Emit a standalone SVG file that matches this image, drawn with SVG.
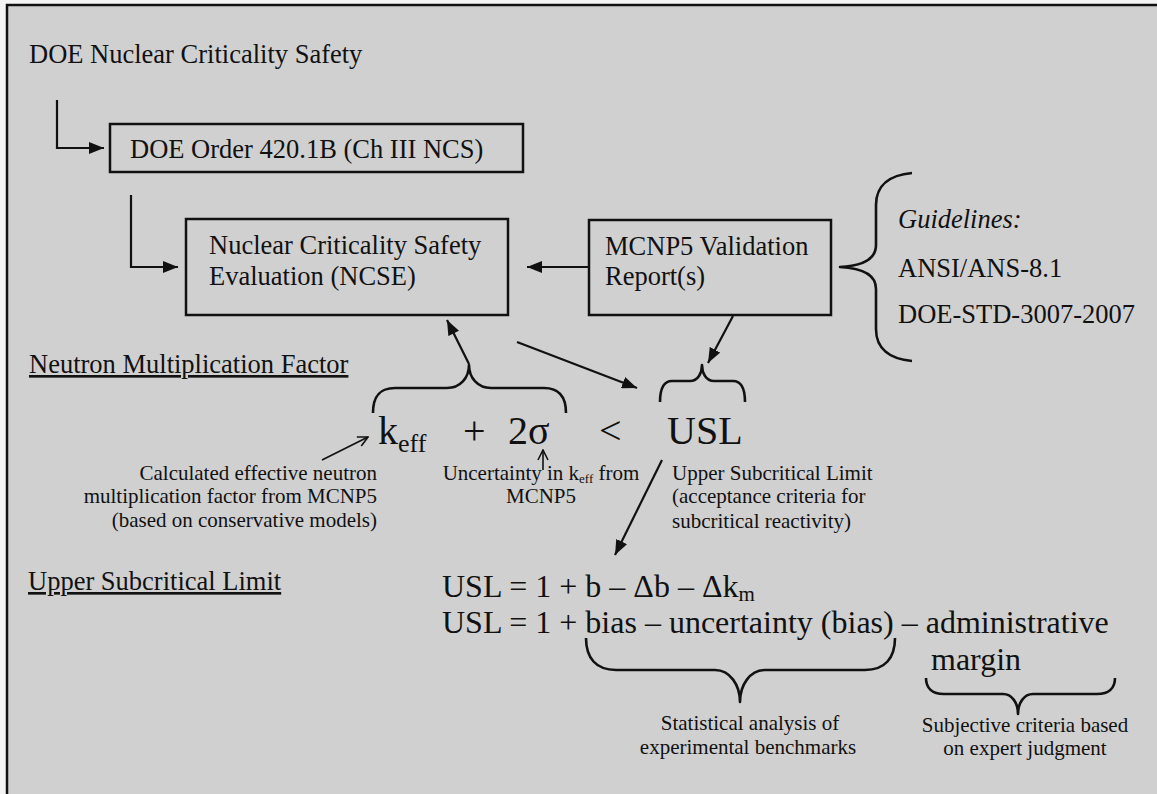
<svg xmlns="http://www.w3.org/2000/svg" width="1157" height="794" viewBox="0 0 1157 794">
<style>
text{font-family:"Liberation Serif","Times New Roman",serif;fill:#111}
.t26{font-size:26.5px}
.t21{font-size:21px}
.t32{font-size:32px}
.t40{font-size:40px}
.box{fill:none;stroke:#111;stroke-width:2.5}
.ln{fill:none;stroke:#111;stroke-width:2.2}
.thin{fill:none;stroke:#111;stroke-width:1.6}
.brace{fill:none;stroke:#111;stroke-width:2.6;stroke-linejoin:round}
</style>
<defs>
<marker id="ah" markerWidth="15" markerHeight="12" refX="15" refY="6" orient="auto" markerUnits="userSpaceOnUse"><path d="M0,0 L15,6 L0,12 z" fill="#111"/></marker>
<marker id="oh" markerWidth="12" markerHeight="12" refX="11" refY="6" orient="auto" markerUnits="userSpaceOnUse"><path d="M1,1 L11,6 L1,11" fill="none" stroke="#111" stroke-width="1.6"/></marker>
</defs>
<rect x="0" y="0" width="1157" height="794" fill="#f4f4f4"/>
<rect x="7" y="5" width="1150" height="789" fill="#d0d0d0"/>
<path d="M7,794 L7,5 L1157,5" fill="none" stroke="#111" stroke-width="2.5"/>

<g id="title"><text class="t26" x="29" y="63">DOE Nuclear Criticality Safety</text></g>

<g id="node-order">
<rect class="box" x="110" y="124" width="413" height="48"/>
<text class="t26" x="130" y="158">DOE Order 420.1B (Ch III NCS)</text>
</g>

<g id="node-ncse">
<rect class="box" x="186" y="219" width="322" height="96"/>
<text class="t26" x="209" y="254">Nuclear Criticality Safety</text>
<text class="t26" x="209" y="285">Evaluation (NCSE)</text>
</g>

<g id="node-mcnp">
<rect class="box" x="589" y="220" width="242" height="95"/>
<text class="t26" x="605" y="255">MCNP5 Validation</text>
<text class="t26" x="605" y="285">Report(s)</text>
</g>

<g id="node-guidelines">
<path class="brace" d="M912,173 C890,175 876,185 876,205 L876,245 C876,260 860,266 840,267 C860,268 876,274 876,289 L876,329 C876,349 890,359 912,361"/>
<text class="t26" x="898" y="228" font-style="italic">Guidelines:</text>
<text class="t26" x="898" y="277">ANSI/ANS-8.1</text>
<text class="t26" x="898" y="323">DOE-STD-3007-2007</text>
</g>

<g id="label-nmf"><text class="t26" x="29" y="373" text-decoration="underline">Neutron Multiplication Factor</text></g>
<g id="label-usl"><text class="t26" x="28" y="590" text-decoration="underline">Upper Subcritical Limit</text></g>

<g id="node-equation">
<path class="brace" d="M373,413 C373,398 378,388 395,388 L447,388 C460,388 469,378 469,365 C469,378 478,388 491,388 L544,388 C560,388 566,398 566,413"/>
<path class="brace" d="M660,402 C660,390 663,381 672,381 L690,381 C698,381 702,373 702,365 C702,373 706,381 714,381 L733,381 C742,381 745,390 745,402"/>
<text class="t40" x="378" y="444">k<tspan font-size="26" dy="8">eff</tspan></text>
<text class="t40" x="463" y="444">+</text>
<text class="t40" x="508" y="444">2σ</text>
<text class="t40" x="599" y="444">&lt;</text>
<text class="t40" x="667" y="444">USL</text>
</g>

<g id="note-keff">
<text class="t21" x="377" y="480" text-anchor="end">Calculated effective neutron</text>
<text class="t21" x="377" y="503" text-anchor="end">multiplication factor from MCNP5</text>
<text class="t21" x="377" y="527" text-anchor="end">(based on conservative models)</text>
</g>
<g id="note-sigma">
<text class="t21" x="541" y="480" text-anchor="middle">Uncertainty in k<tspan font-size="13" dy="3">eff</tspan><tspan dy="-3"> from</tspan></text>
<text class="t21" x="541" y="503" text-anchor="middle">MCNP5</text>
</g>
<g id="note-usl">
<text class="t21" x="672" y="480">Upper Subcritical Limit</text>
<text class="t21" x="672" y="503">(acceptance criteria for</text>
<text class="t21" x="672" y="528">subcritical reactivity)</text>
</g>

<g id="node-usl-eq">
<text class="t32" x="442" y="597">USL = 1 + b – Δb – Δk<tspan font-size="21" dy="4">m</tspan></text>
<text class="t32" x="442" y="633">USL = 1 + bias – uncertainty (bias) – administrative</text>
<text class="t32" x="931" y="670">margin</text>
<path class="brace" d="M586,638 C586,658 596,670 616,670 L715,670 C730,670 740,685 740,702 C740,685 750,670 765,670 L865,670 C885,670 895,658 895,638"/>
<path class="brace" d="M926,678 C926,688 932,694 944,694 L1003,694 C1012,694 1018,703 1018,714 C1018,703 1024,694 1033,694 L1097,694 C1109,694 1115,688 1115,678"/>
<text class="t21" x="750" y="730" text-anchor="middle">Statistical analysis of</text>
<text class="t21" x="748" y="754" text-anchor="middle">experimental benchmarks</text>
<text class="t21" x="1025" y="732" text-anchor="middle">Subjective criteria based</text>
<text class="t21" x="1025" y="755" text-anchor="middle">on expert judgment</text>
</g>

<g id="connectors">
<path class="ln" d="M57,100 L57,148 L104,148" marker-end="url(#ah)"/>
<path class="ln" d="M131,195 L131,267 L178,267" marker-end="url(#ah)"/>
<path class="ln" d="M589,267 L527,267" marker-end="url(#ah)"/>
<path class="ln" d="M469,364 L447,320" marker-end="url(#ah)"/>
<path class="ln" d="M517,342 L637,388" marker-end="url(#ah)"/>
<path class="ln" d="M733,316 L708,363" marker-end="url(#ah)"/>
<path class="ln" d="M662,460 L615,555" marker-end="url(#ah)"/>
<path class="thin" d="M322,460 L368,437" marker-end="url(#oh)"/>
<path class="thin" d="M543,470 L543,450" marker-end="url(#oh)"/>
</g>
</svg>
